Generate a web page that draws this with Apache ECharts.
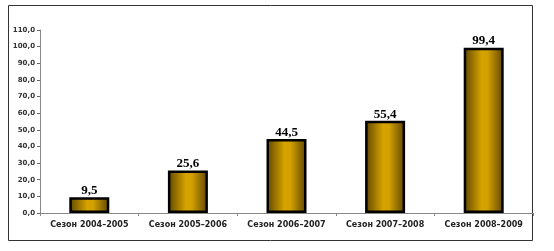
<!DOCTYPE html>
<html><head><meta charset="utf-8">
<script src="https://cdn.jsdelivr.net/npm/echarts@6/dist/echarts.min.js"></script>
<style>html,body{margin:0;padding:0;background:#fff}#c{width:554px;height:251px}</style>
</head><body><div id="c"></div>
<script>
const categories = ['Сезон 2004–2005','Сезон 2005–2006','Сезон 2006–2007','Сезон 2007–2008','Сезон 2008–2009'];
const values = [9.5, 25.6, 44.5, 55.4, 99.4];
const yMin = 0, yMax = 110, yStep = 10;

const chart = echarts.init(document.getElementById('c'), null, {renderer:'canvas'});
const fmt = v => v.toFixed(1).replace('.', ',');
chart.setOption({
  animation:false,
  graphic:[{type:'rect', shape:{x:8.5,y:5.5,width:524,height:235}, style:{fill:'none', stroke:'#333', lineWidth:1}, z:-1}],
  grid:{left:40, right:21, top:30, bottom:38},
  xAxis:{type:'category', data:categories,
    axisLine:{lineStyle:{color:'#888', width:1}},
    axisTick:{show:true, length:3, lineStyle:{color:'#888'}},
    axisLabel:{interval:0, fontFamily:'DejaVu Sans', fontWeight:'bold', fontSize:8, color:'#222', margin:8}},
  yAxis:{type:'value', min:yMin, max:yMax, interval:yStep,
    splitLine:{show:false},
    axisLine:{show:true, lineStyle:{color:'#888', width:1}},
    axisTick:{show:true, length:3, lineStyle:{color:'#666'}},
    axisLabel:{formatter:fmt, fontFamily:'DejaVu Sans', fontWeight:'bold', fontSize:7, color:'#333', margin:5}},
  series:[{type:'bar', data:values, barWidth:40,
    itemStyle:{borderColor:'#000', borderWidth:2.5,
      color:new echarts.graphic.LinearGradient(0,0,1,0,[
        {offset:0,color:'#5e4500'},{offset:0.45,color:'#d6a300'},{offset:0.6,color:'#d2a000'},{offset:1,color:'#5e4500'}])},
    label:{show:true, position:'top', distance:0, formatter:p=>fmt(p.value),
      fontFamily:'Liberation Serif', fontWeight:'bold', fontSize:13, color:'#000'}}]
});
</script></body></html>
